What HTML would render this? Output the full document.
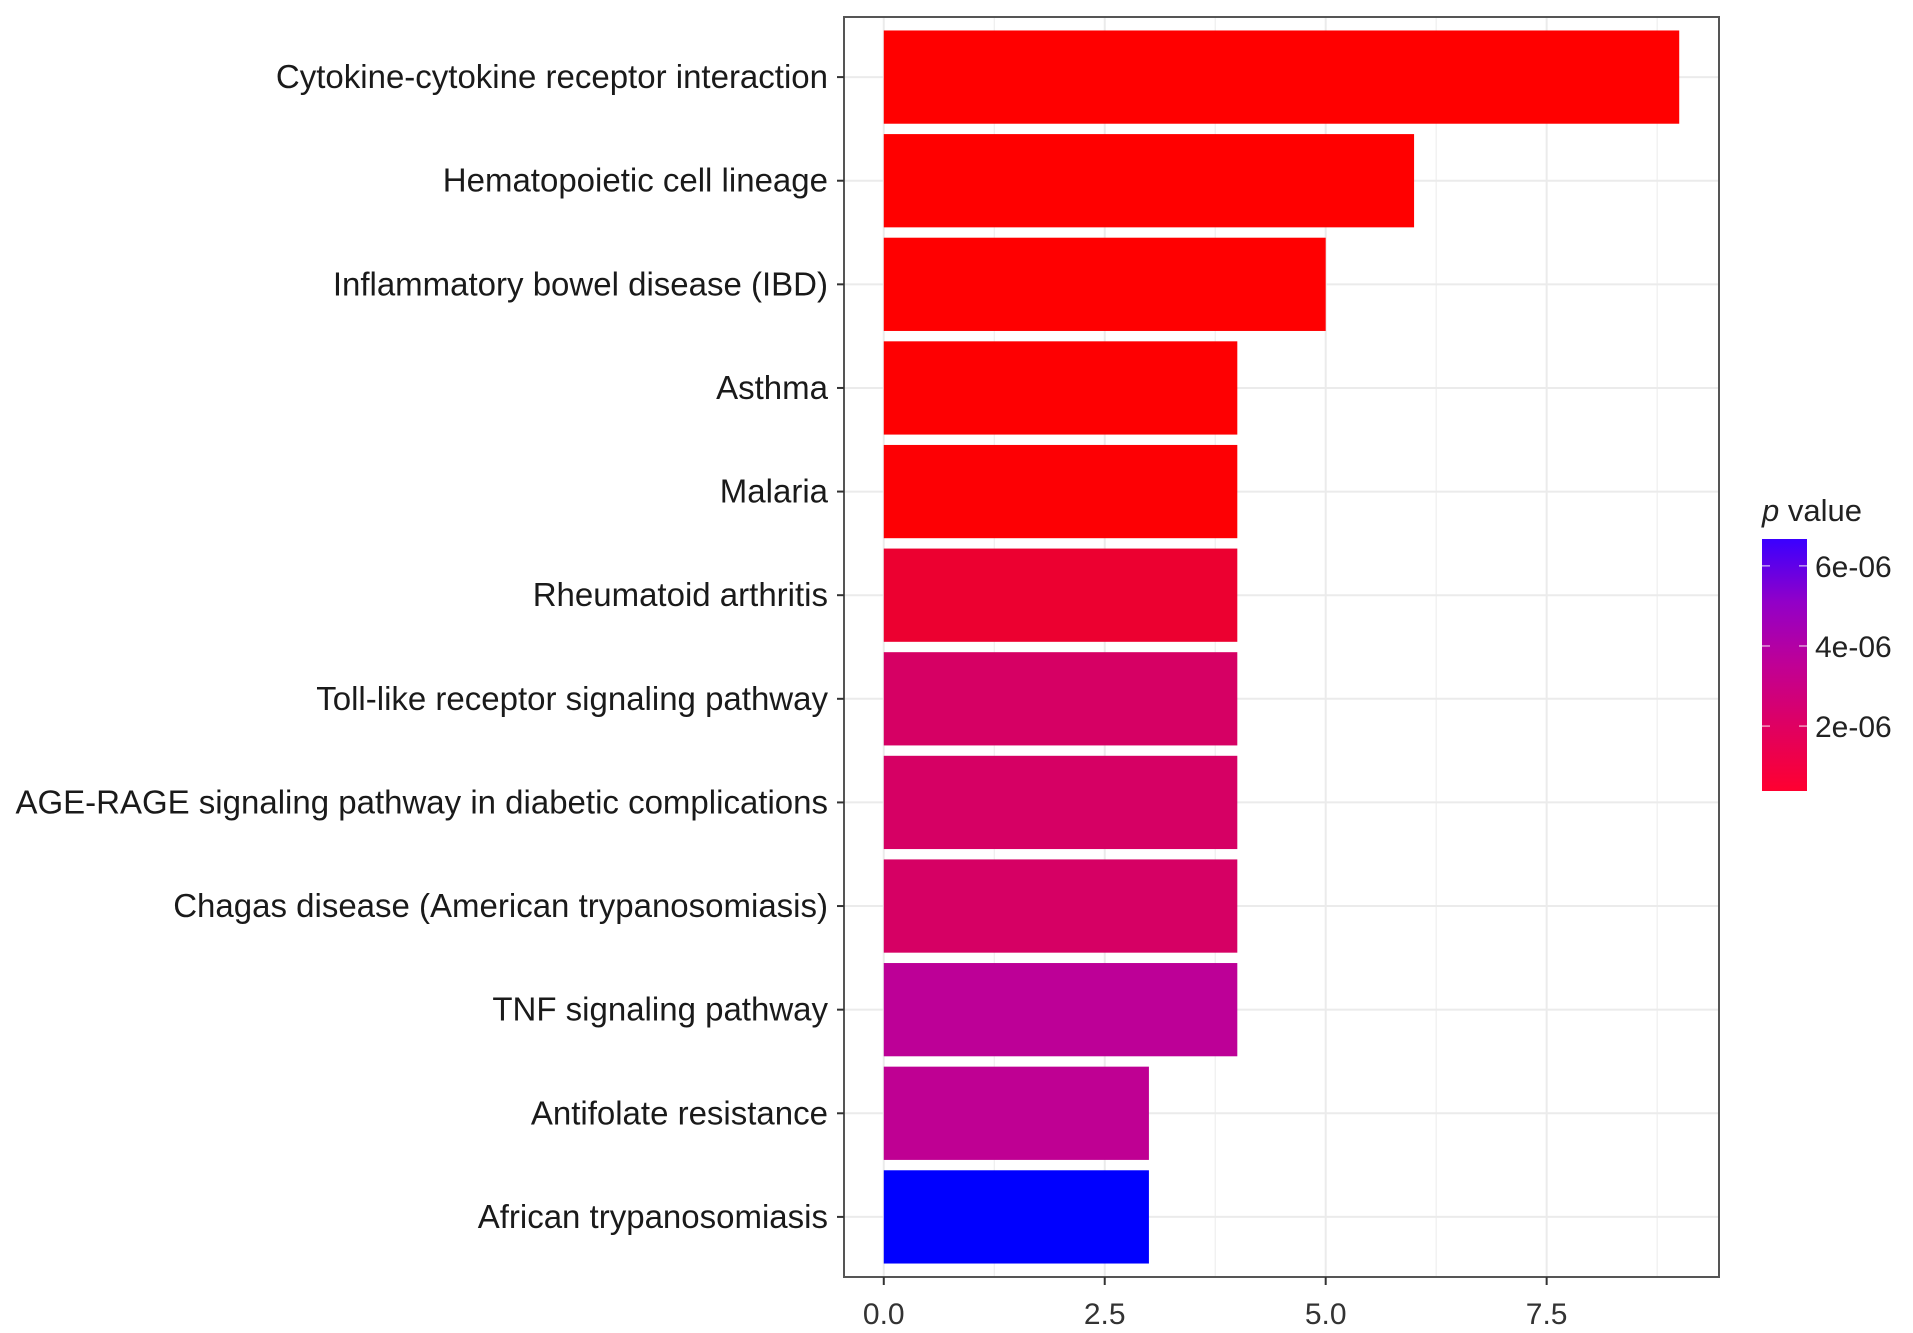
<!DOCTYPE html>
<html><head><meta charset="utf-8"><style>
html,body{margin:0;padding:0;background:#fff;}
svg{display:block;font-family:"Liberation Sans",Arial,sans-serif;}
</style></head><body>
<svg id="chart" width="1913" height="1333" viewBox="0 0 1913 1333" xmlns="http://www.w3.org/2000/svg">
<defs>
<linearGradient id="cbgrad" x1="0" y1="1" x2="0" y2="0">
<stop offset="0" stop-color="#ff0030"/>
<stop offset="0.25" stop-color="#e00060"/>
<stop offset="0.5" stop-color="#c00095"/>
<stop offset="0.75" stop-color="#9200c8"/>
<stop offset="1" stop-color="#3a00ff"/>
</linearGradient>
</defs>
<g id="grid"></g>
<g id="bars"></g>
<rect x="844" y="17" width="875" height="1260" fill="none" stroke="#555" stroke-width="2"/>
<g id="yaxis"></g>
<g id="xaxis"></g>
<g>
<text x="1762" y="521" font-size="31" fill="#222"><tspan font-style="italic">p</tspan> value</text>
<rect x="1762" y="539" width="45" height="252" fill="url(#cbgrad)"/>
<g id="cbticks"></g>
</g>
</svg>
<script>
const categories = ["Cytokine-cytokine receptor interaction","Hematopoietic cell lineage","Inflammatory bowel disease (IBD)","Asthma","Malaria","Rheumatoid arthritis","Toll-like receptor signaling pathway","AGE-RAGE signaling pathway in diabetic complications","Chagas disease (American trypanosomiasis)","TNF signaling pathway","Antifolate resistance","African trypanosomiasis"];
const counts = [9,6,5,4,4,4,4,4,4,4,3,3];
const pvalues = [1e-10,1e-9,2e-8,5e-8,1e-7,1.1e-6,2.4e-6,2.4e-6,2.4e-6,3.7e-6,3.6e-6,6.7e-6];
const xTicks = [0,2.5,5,7.5];
const xTickLabels = ["0.0","2.5","5.0","7.5"];
const legendTicks = [2e-6,4e-6,6e-6];
const legendLabels = ["2e-06","4e-06","6e-06"];

const NS="http://www.w3.org/2000/svg";
const pL=844,pR=1719,pT=17,pB=1277;
const xMin=-0.45,xMax=9.45;
const xs=v=>pL+(v-xMin)/(xMax-xMin)*(pR-pL);
const band=(pB-pT)/(categories.length-1+1.16);
const yc=i=>pT+band*0.58+i*band;
const pMin=0.38e-6,pMax=6.67e-6;
const cbTop=539,cbBot=791;
const ps=p=>cbBot-(p-pMin)/(pMax-pMin)*(cbBot-cbTop);
const stops=[[0,[255,0,0]],[0.2,[232,0,58]],[0.4,[210,0,110]],[0.55,[190,0,150]],[0.78,[140,0,200]],[1,[0,0,255]]];
function col(p){let t=Math.max(0,Math.min(1,p/pMax));
for(let i=0;i<stops.length-1;i++){const a=stops[i],b=stops[i+1];if(t<=b[0]){const f=(t-a[0])/(b[0]-a[0]);
const c=a[1].map((v,k)=>Math.round(v+(b[1][k]-v)*f));return `rgb(${c})`;}}return "rgb(0,0,255)";}
function mk(tag,attrs,parent){const e=document.createElementNS(NS,tag);for(const k in attrs)e.setAttribute(k,attrs[k]);parent.appendChild(e);return e;}
const grid=document.getElementById('grid'),bars=document.getElementById('bars'),ya=document.getElementById('yaxis'),xa=document.getElementById('xaxis'),cbt=document.getElementById('cbticks');
for(let v=-1.25;v<=10;v+=1.25){const x=xs(v);if(x<pL||x>pR)continue;
const major=xTicks.includes(v);
const g=mk('line',{x1:x,x2:x,y1:pT,y2:pB,stroke:'#ebebeb','stroke-width':major?2:1},grid);

}
categories.forEach((c,i)=>{const y=yc(i);
const g=mk('line',{x1:pL,x2:pR,y1:y,y2:y,stroke:'#ebebeb','stroke-width':2},grid);


const h=band*0.9;
const r=mk('rect',{x:xs(0),y:y-h/2,width:xs(counts[i])-xs(0),height:h,fill:col(pvalues[i])},bars);


const t=mk('line',{x1:837,x2:844,y1:y,y2:y,stroke:'#333','stroke-width':2},ya);


const l=mk('text',{x:828,y:y+11,'text-anchor':'end','font-size':33,fill:'#1a1a1a'},ya);
l.textContent=c;

});
xTicks.forEach((v,i)=>{const x=xs(v);
const t=mk('line',{x1:x,x2:x,y1:pB,y2:pB+8,stroke:'#333','stroke-width':2},xa);


const l=mk('text',{x:x,y:1324,'text-anchor':'middle','font-size':30,fill:'#333'},xa);
l.textContent=xTickLabels[i];

});
legendTicks.forEach((p,i)=>{const y=ps(p);
mk('line',{x1:1762,x2:1770,y1:y,y2:y,stroke:'#fff','stroke-opacity':0.6,'stroke-width':1.5},cbt);
mk('line',{x1:1799,x2:1807,y1:y,y2:y,stroke:'#fff','stroke-opacity':0.6,'stroke-width':1.5},cbt);
const l=mk('text',{x:1815,y:y+11,'font-size':30,fill:'#222'},cbt);
l.textContent=legendLabels[i];

});
</script>
</body></html>
